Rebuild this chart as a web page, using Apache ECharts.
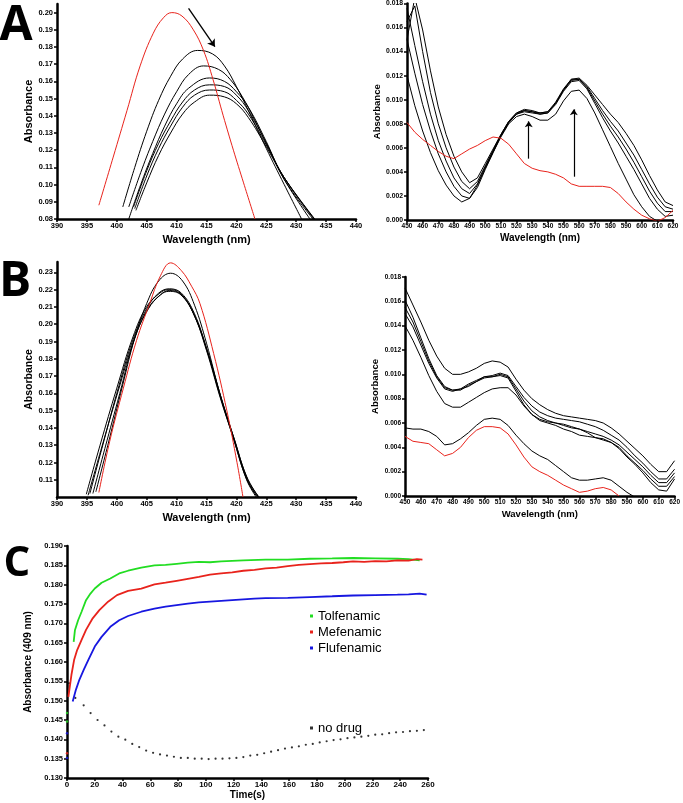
<!DOCTYPE html>
<html>
<head>
<meta charset="utf-8">
<script src="https://cdn.jsdelivr.net/npm/echarts@6/dist/echarts.min.js"></script>
<style>
  html, body { margin: 0; padding: 0; background: #fff; }
  #chart { width: 683px; height: 803px; }
</style>
</head>
<body>
<div id="chart"></div>
<script>
// ---- panel A, left: Soret band (red = no drug, black = with drug) ----
var aLeftRedX = [397.0, 399.4, 401.7, 403.9, 406.1, 407.8, 409.2, 410.9, 412.8, 414.5, 416.1, 417.8, 419.5, 421.2, 423.1];
var aLeftRedY = [0.088, 0.116, 0.143, 0.169, 0.188, 0.197, 0.200, 0.198, 0.190, 0.178, 0.161, 0.140, 0.120, 0.101, 0.080];
var aLeftBlackX = [
  [401.0, 403, 405, 407, 409, 411, 413.5, 416, 418, 420, 422, 425, 428, 430.9],
  [402.0, 404, 406, 408, 410, 412, 414.5, 417, 419, 421, 423, 425, 428, 432.3],
  [402.0, 404, 406, 408, 410, 412, 415.5, 418, 420, 422, 425, 428, 432.8],
  [402.8, 405, 407, 409, 411, 413, 415.5, 418, 420, 422, 425, 428, 433.0],
  [403.0, 405, 407, 409, 411, 413, 415.5, 418, 420, 422, 425, 428, 433.0],
  [403.2, 405, 407, 409, 411, 413, 415.5, 418, 420, 422, 425, 428, 433.1]
];
var aLeftBlackY = [
  [0.087, 0.110, 0.131, 0.149, 0.163, 0.173, 0.178, 0.176, 0.169, 0.157, 0.143, 0.121, 0.100, 0.080],
  [0.087, 0.107, 0.125, 0.141, 0.154, 0.164, 0.169, 0.167, 0.161, 0.151, 0.138, 0.124, 0.103, 0.080],
  [0.080, 0.100, 0.118, 0.134, 0.147, 0.156, 0.162, 0.160, 0.154, 0.145, 0.125, 0.103, 0.080],
  [0.087, 0.108, 0.124, 0.137, 0.148, 0.155, 0.158, 0.157, 0.152, 0.143, 0.124, 0.104, 0.080],
  [0.086, 0.105, 0.121, 0.134, 0.145, 0.152, 0.155, 0.154, 0.149, 0.141, 0.123, 0.104, 0.080],
  [0.085, 0.101, 0.117, 0.130, 0.141, 0.148, 0.152, 0.151, 0.147, 0.139, 0.122, 0.104, 0.080]
];

// ---- panel A, right: visible region ----
var wlRight = [450, 455, 460, 465, 470, 475, 480, 485, 490, 495, 500, 505, 510, 515, 520, 525, 530, 535, 540, 545,
               550, 555, 560, 565, 570, 575, 580, 585, 590, 595, 600, 605, 610, 615, 620];
var aRightRed = [0.0081, 0.0073, 0.0067, 0.0062, 0.0057, 0.0053, 0.0051, 0.0055, 0.0059, 0.0062, 0.0066, 0.0069, 0.0068, 0.0063, 0.0055,
                 0.0047, 0.0043, 0.0041, 0.0040, 0.0038, 0.0035, 0.0030, 0.0028, 0.0028, 0.0028, 0.0028, 0.0027, 0.0022, 0.0015,
                 0.0009, 0.0004, 0.0001, -0.0001, 0.0002, 0.0008];
var aRightBlack = [
  [0.0120, 0.0095, 0.0074, 0.0056, 0.0041, 0.0029, 0.0020, 0.0015, 0.0018, 0.0029, 0.0043, 0.0056, 0.0069, 0.0080, 0.0086,
   0.0088, 0.0086, 0.0083, 0.0083, 0.0088, 0.0099, 0.0107, 0.0108, 0.0101, 0.0089, 0.0075, 0.0061, 0.0047, 0.0034,
   0.0021, 0.0011, 0.0003, -0.0001, -0.0002, -0.0002],
  [0.0150, 0.0122, 0.0096, 0.0074, 0.0055, 0.0040, 0.0028, 0.0020, 0.0018, 0.0027, 0.0042, 0.0056, 0.0070, 0.0081, 0.0088,
   0.0090, 0.0089, 0.0088, 0.0089, 0.0096, 0.0107, 0.0115, 0.0116, 0.0109, 0.0097, 0.0085, 0.0074, 0.0064, 0.0053,
   0.0042, 0.0030, 0.0018, 0.0009, 0.0003, 0.0004],
  [0.0176, 0.0145, 0.0115, 0.0088, 0.0066, 0.0049, 0.0035, 0.0026, 0.0022, 0.0030, 0.0044, 0.0057, 0.0070, 0.0081, 0.0088,
   0.0091, 0.0090, 0.0088, 0.0089, 0.0097, 0.0108, 0.0116, 0.0117, 0.0110, 0.0099, 0.0088, 0.0078, 0.0069, 0.0059,
   0.0048, 0.0036, 0.0024, 0.0014, 0.0007, 0.0007],
  [0.0165, 0.0178, 0.0140, 0.0106, 0.0080, 0.0060, 0.0044, 0.0032, 0.0026, 0.0032, 0.0045, 0.0058, 0.0071, 0.0082, 0.0089,
   0.0091, 0.0090, 0.0089, 0.0090, 0.0097, 0.0108, 0.0117, 0.0117, 0.0111, 0.0101, 0.0091, 0.0082, 0.0074, 0.0064,
   0.0054, 0.0042, 0.0030, 0.0019, 0.0011, 0.0009],
  [0.0150, 0.0185, 0.0158, 0.0124, 0.0094, 0.0071, 0.0053, 0.0040, 0.0031, 0.0035, 0.0047, 0.0059, 0.0071, 0.0082, 0.0089,
   0.0092, 0.0091, 0.0089, 0.0090, 0.0098, 0.0109, 0.0117, 0.0118, 0.0112, 0.0104, 0.0096, 0.0088, 0.0081, 0.0072,
   0.0062, 0.0050, 0.0037, 0.0025, 0.0015, 0.0012]
];

// ---- panel B, left ----
var bLeftRedX = [397.0, 398.8, 401.1, 403.3, 405.5, 407.3, 409.0, 410.8, 412.5, 413.9, 416.2, 418.4, 420.1, 421.1];
var bLeftRedY = [0.1026, 0.132, 0.163, 0.1906, 0.212, 0.228, 0.2355, 0.231, 0.222, 0.212, 0.183, 0.150, 0.120, 0.100];
var bLeftBlackX = [
  [396.5, 398.5, 401, 403, 405, 407, 409, 411, 413, 415, 417.3, 419.5, 421.7, 423.3],
  [395.5, 397.5, 400, 402.7, 405, 407, 408.8, 410.8, 413, 415, 417.3, 419.5, 421.7, 423.7],
  [394.9, 397.2, 400.0, 402.7, 405.0, 407.2, 408.6, 410.6, 412.8, 415.0, 417.3, 419.5, 421.7, 423.5],
  [396.0, 398, 400.5, 403, 405.3, 407.3, 408.8, 410.8, 413, 415.2, 417.5, 419.7, 421.9, 423.8],
  [395.2, 397.5, 400.2, 402.9, 405.2, 407.3, 408.7, 410.7, 412.9, 415.1, 417.4, 419.6, 421.8, 423.6]
];
var bLeftBlackY = [
  [0.1030, 0.130, 0.165, 0.192, 0.212, 0.225, 0.2295, 0.225, 0.211, 0.189, 0.159, 0.134, 0.110, 0.100],
  [0.102, 0.128, 0.160, 0.191, 0.209, 0.218, 0.2205, 0.218, 0.206, 0.186, 0.159, 0.135, 0.112, 0.100],
  [0.1016, 0.130, 0.163, 0.1926, 0.2102, 0.218, 0.220, 0.218, 0.2063, 0.1848, 0.1574, 0.1339, 0.1104, 0.100],
  [0.102, 0.128, 0.160, 0.192, 0.209, 0.217, 0.2195, 0.217, 0.205, 0.184, 0.157, 0.133, 0.110, 0.100],
  [0.101, 0.129, 0.161, 0.191, 0.209, 0.217, 0.219, 0.217, 0.2055, 0.1845, 0.157, 0.1335, 0.110, 0.100]
];

// ---- panel B, right ----
var bRightRed = [0.0049, 0.0045, 0.0044, 0.0043, 0.0038, 0.0033, 0.0035, 0.0040, 0.0048, 0.0054, 0.0057, 0.0057, 0.0056, 0.0051, 0.0042,
                 0.0032, 0.0024, 0.0020, 0.0017, 0.0013, 0.0009, 0.0006, 0.0003, 0.0004, 0.0006, 0.0007, 0.0005, 0.0000, null,
                 null, null, null, null, null, null];
var bRightBlack = [
  [0.0171, 0.0157, 0.0143, 0.0128, 0.0115, 0.0105, 0.0100, 0.0100, 0.0102, 0.0105, 0.0109, 0.0111, 0.0110, 0.0106, 0.0096,
   0.0087, 0.0080, 0.0075, 0.0071, 0.0068, 0.0066, 0.0065, 0.0064, 0.0063, 0.0062, 0.0060, 0.0056, 0.0051, 0.0045,
   0.0039, 0.0033, 0.0026, 0.0020, 0.0020, 0.0029],
  [0.0161, 0.0147, 0.0130, 0.0113, 0.0099, 0.0090, 0.0087, 0.0088, 0.0092, 0.0095, 0.0098, 0.0099, 0.0101, 0.0099, 0.0090,
   0.0081, 0.0074, 0.0069, 0.0066, 0.0064, 0.0063, 0.0062, 0.0061, 0.0059, 0.0057, 0.0054, 0.0050, 0.0046, 0.0040,
   0.0033, 0.0027, 0.0020, 0.0014, 0.0014, 0.0022],
  [0.0155, 0.0143, 0.0127, 0.0111, 0.0098, 0.0089, 0.0087, 0.0087, 0.0091, 0.0094, 0.0098, 0.0098, 0.0100, 0.0098, 0.0088,
   0.0078, 0.0070, 0.0065, 0.0062, 0.0060, 0.0058, 0.0056, 0.0055, 0.0053, 0.0051, 0.0049, 0.0046, 0.0042, 0.0036,
   0.0030, 0.0024, 0.0017, 0.0011, 0.0011, 0.0019],
  [0.0150, 0.0139, 0.0124, 0.0109, 0.0097, 0.0088, 0.0086, 0.0088, 0.0090, 0.0094, 0.0097, 0.0098, 0.0099, 0.0097, 0.0086,
   0.0075, 0.0067, 0.0062, 0.0060, 0.0058, 0.0055, 0.0053, 0.0050, 0.0049, 0.0048, 0.0047, 0.0044, 0.0040, 0.0033,
   0.0027, 0.0021, 0.0014, 0.0008, 0.0008, 0.0016],
  [0.0140, 0.0128, 0.0114, 0.0099, 0.0086, 0.0076, 0.0073, 0.0073, 0.0077, 0.0081, 0.0085, 0.0088, 0.0089, 0.0089, 0.0083,
   0.0074, 0.0067, 0.0063, 0.0061, 0.0060, 0.0059, 0.0057, 0.0055, 0.0052, 0.0048, 0.0046, 0.0044, 0.0039, 0.0032,
   0.0026, 0.0019, 0.0011, 0.0005, 0.0004, 0.0014],
  [0.0056, 0.0055, 0.0055, 0.0053, 0.0049, 0.0042, 0.0043, 0.0047, 0.0052, 0.0058, 0.0063, 0.0064, 0.0063, 0.0058, 0.0050,
   0.0043, 0.0037, 0.0033, 0.0030, 0.0025, 0.0020, 0.0015, 0.0013, 0.0013, 0.0014, 0.0015, 0.0013, 0.0008, 0.0003,
   -0.0001, null, null, null, null, null]
];

// ---- panel C: absorbance at 409 nm vs time ----
var tolfT = [4.8, 5.7, 8, 10.5, 13.7, 16.9, 20, 24.9, 31.2, 37.6, 44, 53.5, 63, 71, 79, 87, 95, 103, 111, 127, 143, 159, 175, 191, 206, 222, 238, 246, 254];
var tolfV = [0.1652, 0.1682, 0.1708, 0.1730, 0.1760, 0.1777, 0.1790, 0.1805, 0.1816, 0.1829, 0.1836, 0.1844, 0.1850, 0.1851, 0.1854, 0.1857,
             0.1859, 0.1858, 0.1860, 0.1863, 0.1865, 0.1865, 0.1867, 0.1868, 0.1869, 0.1868, 0.1867, 0.1866, 0.1863];
var mefT = [1, 3.2, 5.1, 7.3, 10.5, 13.7, 18.5, 23.3, 29.6, 36, 44, 53.5, 63, 71, 79, 87, 95, 103, 111, 119, 127, 135, 143, 151, 159,
            167, 175, 183, 191, 199, 206, 214, 222, 230, 238, 246, 252, 256];
var mefV = [0.1510, 0.1567, 0.1605, 0.1631, 0.1657, 0.1683, 0.1713, 0.1734, 0.1756, 0.1773, 0.1784, 0.1790, 0.1801, 0.1805, 0.1810, 0.1815,
            0.1820, 0.1826, 0.1829, 0.1832, 0.1836, 0.1838, 0.1842, 0.1844, 0.1848, 0.1851, 0.1853, 0.1855, 0.1856, 0.1858, 0.1860,
            0.1859, 0.1861, 0.1860, 0.1863, 0.1862, 0.1866, 0.1865];
var fluT = [4.1, 6.4, 8.9, 12.1, 15.3, 20, 24.9, 31.2, 37.6, 44, 53.5, 63, 71, 79, 87, 95, 103, 111, 119, 127, 135, 143, 159, 175, 191,
            206, 222, 238, 246, 254, 259];
var fluV = [0.1498, 0.1528, 0.1554, 0.1580, 0.1605, 0.1640, 0.1665, 0.1691, 0.1708, 0.1719, 0.1730, 0.1738, 0.1743, 0.1747, 0.1751, 0.1754,
            0.1756, 0.1758, 0.1760, 0.1762, 0.1764, 0.1765, 0.1766, 0.1768, 0.1770, 0.1772, 0.1773, 0.1774, 0.1775, 0.1777, 0.1774];
// first isolated readings at t = 0
var tolfStart = [0.1468, 0.1446];
var mefStart = [0.1364];
var fluStart = [0.1416, 0.1352];
var noDrugT = [1.6, 6, 12, 17, 22, 27, 32, 37, 42, 47, 52, 57, 62, 67, 72, 77, 82, 87, 92, 97, 102, 107, 112, 117, 122, 127,
               132, 137, 142, 147, 152, 157, 162, 167, 172, 177, 182, 187, 192, 197, 202, 207, 212, 217, 222, 227, 232, 237, 242, 247, 252, 257];
var noDrugV = [0.1545, 0.1507, 0.1488, 0.1468, 0.1450, 0.1436, 0.1420, 0.1407, 0.1399, 0.1388, 0.1380, 0.1371, 0.1365, 0.1361, 0.1358,
               0.1355, 0.1352, 0.1352, 0.1350, 0.1350, 0.1349, 0.1350, 0.1350, 0.1351, 0.1352, 0.1354, 0.1358, 0.1360, 0.1364, 0.1368,
               0.1372, 0.1376, 0.1379, 0.1382, 0.1386, 0.1388, 0.1392, 0.1395, 0.1398, 0.1400, 0.1403, 0.1405, 0.1407, 0.1409, 0.1412,
               0.1413, 0.1416, 0.1418, 0.1419, 0.1421, 0.1422, 0.1424];

var RED = '#e8231c', GREEN = '#22dd22', BLUE = '#1717e0';
var FONT = 'Liberation Sans';

function pairs(xs, ys) {
  return xs.map(function (x, i) { return [x, ys[i]]; });
}
function atZero(ys) {
  return ys.map(function (y) { return [0, y]; });
}

function xAxisFor(grid, min, max, interval, labelSize, nameSize, gap, name) {
  return {
    type: 'value', gridIndex: grid, min: min, max: max, interval: interval,
    name: name, nameLocation: 'middle', nameGap: gap,
    nameTextStyle: { fontFamily: FONT, fontWeight: 'bold', fontSize: nameSize, color: '#000' },
    axisLine: { onZero: false, lineStyle: { color: '#000', width: 2.5 } },
    axisTick: { length: 3, lineStyle: { color: '#000', width: 1.5 } },
    axisLabel: { fontFamily: FONT, fontWeight: 'bold', fontSize: labelSize, color: '#000', margin: 3 },
    splitLine: { show: false }
  };
}
function yAxisFor(grid, min, max, interval, digits, labelSize, nameSize, gap, name, hideMin, hideMax) {
  return {
    type: 'value', gridIndex: grid, min: min, max: max, interval: interval,
    name: name, nameLocation: 'middle', nameGap: gap,
    nameTextStyle: { fontFamily: FONT, fontWeight: 'bold', fontSize: nameSize, color: '#000' },
    axisLine: { onZero: false, lineStyle: { color: '#000', width: 2.5 } },
    axisTick: { length: 3, lineStyle: { color: '#000', width: 1.5 } },
    axisLabel: {
      fontFamily: FONT, fontWeight: 'bold', fontSize: labelSize, color: '#000', margin: 4,
      showMinLabel: !hideMin, showMaxLabel: !hideMax,
      formatter: function (v) { return v.toFixed(digits); }
    },
    splitLine: { show: false }
  };
}

function curve(xi, data, color, smooth) {
  return {
    type: 'line', xAxisIndex: xi, yAxisIndex: xi, data: data, smooth: smooth,
    showSymbol: false, silent: true, lineStyle: { color: color, width: 1 }, itemStyle: { color: color }
  };
}
function arrow(from, to) {
  return [{ coord: from }, { coord: to }];
}

var series = [];
// A left
aLeftBlackX.forEach(function (xs, i) { series.push(curve(0, pairs(xs, aLeftBlackY[i]), '#000', 0.4)); });
var aLeftRed = curve(0, pairs(aLeftRedX, aLeftRedY), RED, 0.4);
aLeftRed.markLine = {
  silent: true, symbol: ['none', 'arrow'], symbolSize: 7, label: { show: false },
  lineStyle: { color: '#000', width: 1.3, type: 'solid' },
  data: [arrow([412.0, 0.2025], [416.4, 0.1802])]
};
series.push(aLeftRed);
// A right
aRightBlack.forEach(function (ys) { series.push(curve(1, pairs(wlRight, ys), '#000', false)); });
var aRightRedS = curve(1, pairs(wlRight, aRightRed), RED, false);
aRightRedS.markLine = {
  silent: true, symbol: ['none', 'arrow'], symbolSize: 6, label: { show: false },
  lineStyle: { color: '#000', width: 1.2, type: 'solid' },
  data: [arrow([527.8, 0.0051], [527.8, 0.0082]), arrow([556.6, 0.0036], [556.6, 0.0092])]
};
series.push(aRightRedS);
// B left
bLeftBlackX.forEach(function (xs, i) { series.push(curve(2, pairs(xs, bLeftBlackY[i]), '#000', 0.4)); });
series.push(curve(2, pairs(bLeftRedX, bLeftRedY), RED, 0.4));
// B right
bRightBlack.forEach(function (ys) { series.push(curve(3, pairs(wlRight, ys), '#000', false)); });
series.push(curve(3, pairs(wlRight, bRightRed), RED, false));
// C
function kinetic(name, color, data, start) {
  series.push({
    name: name, type: 'line', xAxisIndex: 4, yAxisIndex: 4, data: data, smooth: false,
    showSymbol: false, color: color, lineStyle: { color: color, width: 1.8 }
  });
  series.push({
    type: 'scatter', xAxisIndex: 4, yAxisIndex: 4, data: start, symbolSize: 2.5,
    itemStyle: { color: color }, silent: true
  });
}
kinetic('Tolfenamic', GREEN, pairs(tolfT, tolfV), atZero(tolfStart));
kinetic('Mefenamic', RED, pairs(mefT, mefV), atZero(mefStart));
kinetic('Flufenamic', BLUE, pairs(fluT, fluV), atZero(fluStart));
series.push({
  name: 'no drug', type: 'scatter', xAxisIndex: 4, yAxisIndex: 4, data: pairs(noDrugT, noDrugV),
  symbolSize: 2.2, color: '#000', itemStyle: { color: '#000' }
});

var legendText = { fontFamily: FONT, fontSize: 13, color: '#000', lineHeight: 16 };

var option = {
  animation: false,
  backgroundColor: '#fff',
  grid: [
    { left: 57, top: 4, width: 299, height: 215 },
    { left: 407, top: 3, width: 266, height: 217 },
    { left: 57, top: 262, width: 299, height: 235 },
    { left: 405, top: 277, width: 272, height: 219 },
    { left: 67, top: 546, width: 361, height: 232 }
  ],
  xAxis: [
    xAxisFor(0, 390, 440, 5, 7.5, 11, 15, 'Wavelength (nm)'),
    xAxisFor(1, 450, 620, 10, 6.5, 10, 13, 'Wavelength (nm)'),
    xAxisFor(2, 390, 440, 5, 7.5, 11, 15, 'Wavelength (nm)'),
    xAxisFor(3, 450, 620, 10, 6.5, 9.5, 13, 'Wavelength (nm)'),
    xAxisFor(4, 0, 260, 20, 8, 10, 11, 'Time(s)')
  ],
  yAxis: [
    yAxisFor(0, 0.08, 0.205, 0.01, 2, 7.5, 11, 21, 'Absorbance', false, true),
    yAxisFor(1, 0, 0.018, 0.002, 3, 6.8, 9.5, 22, 'Absorbance', false, false),
    yAxisFor(2, 0.10, 0.236, 0.01, 2, 7.5, 10.5, 20, 'Absorbance', true, true),
    yAxisFor(3, 0, 0.018, 0.002, 3, 6.5, 9.5, 23, 'Absorbance', false, false),
    yAxisFor(4, 0.130, 0.190, 0.005, 3, 7.5, 10, 25, 'Absorbance (409 nm)', false, false)
  ],
  legend: [
    {
      data: ['Tolfenamic', 'Mefenamic', 'Flufenamic'], orient: 'vertical', left: 310, top: 608,
      padding: 0, itemGap: 0, itemWidth: 3, itemHeight: 3, icon: 'rect', selectedMode: false,
      textStyle: legendText
    },
    {
      data: ['no drug'], orient: 'vertical', left: 310, top: 720,
      padding: 0, itemWidth: 3, itemHeight: 3, icon: 'rect', selectedMode: false,
      textStyle: legendText
    }
  ],
  graphic: [
    { type: 'text', style: { x: 16, y: 26, text: 'A', font: 'bold 48px "Open Sans"', fill: '#000', align: 'center', verticalAlign: 'middle' } },
    { type: 'text', style: { x: 15, y: 282, text: 'B', font: 'bold 48px "Open Sans"', fill: '#000', align: 'center', verticalAlign: 'middle' } },
    { type: 'text', style: { x: 17, y: 564, text: 'C', font: 'bold 42px "Open Sans"', fill: '#000', align: 'center', verticalAlign: 'middle' } }
  ],
  series: series
};

var chart = echarts.init(document.getElementById('chart'), null, { renderer: 'canvas' });
chart.setOption(option);
</script>
</body>
</html>
